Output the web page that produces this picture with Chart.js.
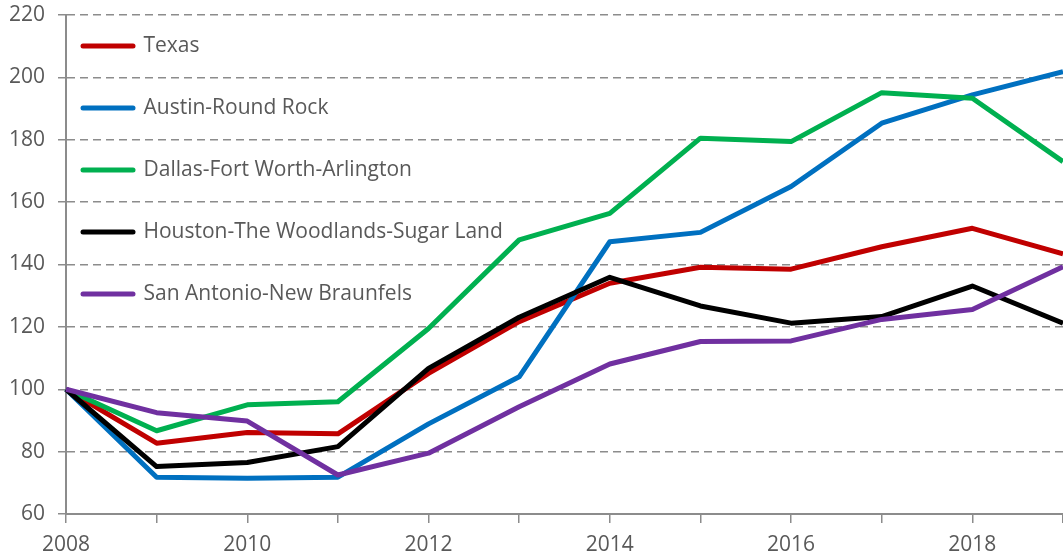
<!DOCTYPE html>
<html>
<head>
<meta charset="utf-8">
<script src="https://cdn.jsdelivr.net/npm/chart.js@4"></script>
<style>
  body { margin: 0; background: #fff; }
  #box { width: 1063px; height: 558px; }
</style>
</head>
<body>
<div id="box"><canvas id="myChart"></canvas></div>
<script>
// house price index, 2008 = 100
let years = ['2008', '2009', '2010', '2011', '2012', '2013', '2014', '2015', '2016', '2017', '2018', '2019'];
let xTickLabels = ['2008', '', '2010', '', '2012', '', '2014', '', '2016', '', '2018', ''];
let yTicks = [60, 80, 100, 120, 140, 160, 180, 200, 220];

let seriesNames = ['Texas', 'Austin-Round Rock', 'Dallas-Fort Worth-Arlington', 'Houston-The Woodlands-Sugar Land', 'San Antonio-New Braunfels'];
let texas = [100, 82.7, 86.1, 85.7, 105.1, 121.7, 134.0, 139.1, 138.5, 145.7, 151.6, 143.4];
let austin = [100, 71.8, 71.5, 71.8, 88.9, 104.0, 147.3, 150.3, 165.0, 185.3, 194.4, 201.8];
let dallas = [100, 86.7, 95.0, 96.0, 119.5, 147.9, 156.4, 180.5, 179.4, 195.1, 193.3, 173.0];
let houston = [100, 75.2, 76.5, 81.6, 106.7, 123.1, 135.9, 126.7, 121.2, 123.3, 133.1, 121.2];
let sanAntonio = [100, 92.5, 89.8, 72.5, 79.5, 94.4, 108.1, 115.3, 115.5, 122.4, 125.6, 139.3];

let colors = ['#C00000', '#0070C0', '#00B050', '#000000', '#7030A0'];
let allSeries = [texas, austin, dallas, houston, sanAntonio];

let textColor = '#595959';
let gridColor = '#8c8c8c';
let font = { family: '"Open Sans", sans-serif', size: 21 };

// later series drawn on top, like the original
let datasets = allSeries.map((values, i) => ({
  label: seriesNames[i],
  data: values,
  borderColor: colors[i],
  backgroundColor: colors[i],
  borderWidth: 5,
  borderJoinStyle: 'round',
  pointRadius: 0,
  tension: 0,
  order: allSeries.length - i
}));

// nudge the legend into the top-left corner of the plot
const legendShift = {
  id: 'legendShift',
  afterLayout(chart) {
    chart.legend.left = chart.chartArea.left - 24;
    chart.legend.top = chart.chartArea.top - 20.5;
  }
};

let ctx = document.getElementById('myChart').getContext('2d');
let chart = new Chart(ctx, {
  type: 'line',
  data: { labels: years, datasets: datasets },
  options: {
    responsive: true,
    maintainAspectRatio: false,
    animation: false,
    layout: { autoPadding: false, padding: { left: 0, top: 15, right: 0, bottom: 0 } },
    plugins: {
      tooltip: { enabled: false },
      legend: {
        position: 'chartArea',
        align: 'start',
        labels: {
          font: font,
          color: textColor,
          padding: 41,
          usePointStyle: true,
          pointStyleWidth: 50,
          generateLabels: (c) => c.data.datasets.map((ds, i) => ({
            text: ds.label,
            fillStyle: ds.borderColor,
            strokeStyle: ds.borderColor,
            lineWidth: 5,
            lineCap: 'round',
            pointStyle: 'line',
            fontColor: textColor,
            hidden: false,
            datasetIndex: i
          }))
        }
      }
    },
    scales: {
      x: {
        type: 'category',
        offset: false,
        afterFit: (scale) => {
          scale.height = 44;
          scale.paddingLeft = 0;
          scale.paddingRight = 0;
        },
        border: { display: true, color: gridColor, width: 2 },
        grid: { drawOnChartArea: false, drawTicks: true, tickLength: 9, color: gridColor, lineWidth: 1.5 },
        ticks: {
          autoSkip: false,
          maxRotation: 0,
          padding: 9,
          color: textColor,
          font: font,
          callback: (value, index) => xTickLabels[index]
        }
      },
      y: {
        min: yTicks[0],
        max: yTicks[yTicks.length - 1],
        afterFit: (scale) => {
          scale.width = 66;
          scale.paddingTop = 0;
          scale.paddingBottom = 0;
        },
        border: { display: true, color: gridColor, width: 2, dash: [8, 5] },
        grid: { color: gridColor, lineWidth: 1.5, tickLength: 8, drawTicks: true },
        ticks: {
          stepSize: 20,
          padding: 13,
          color: textColor,
          font: font
        }
      }
    }
  },
  plugins: [legendShift]
});
</script>
</body>
</html>
